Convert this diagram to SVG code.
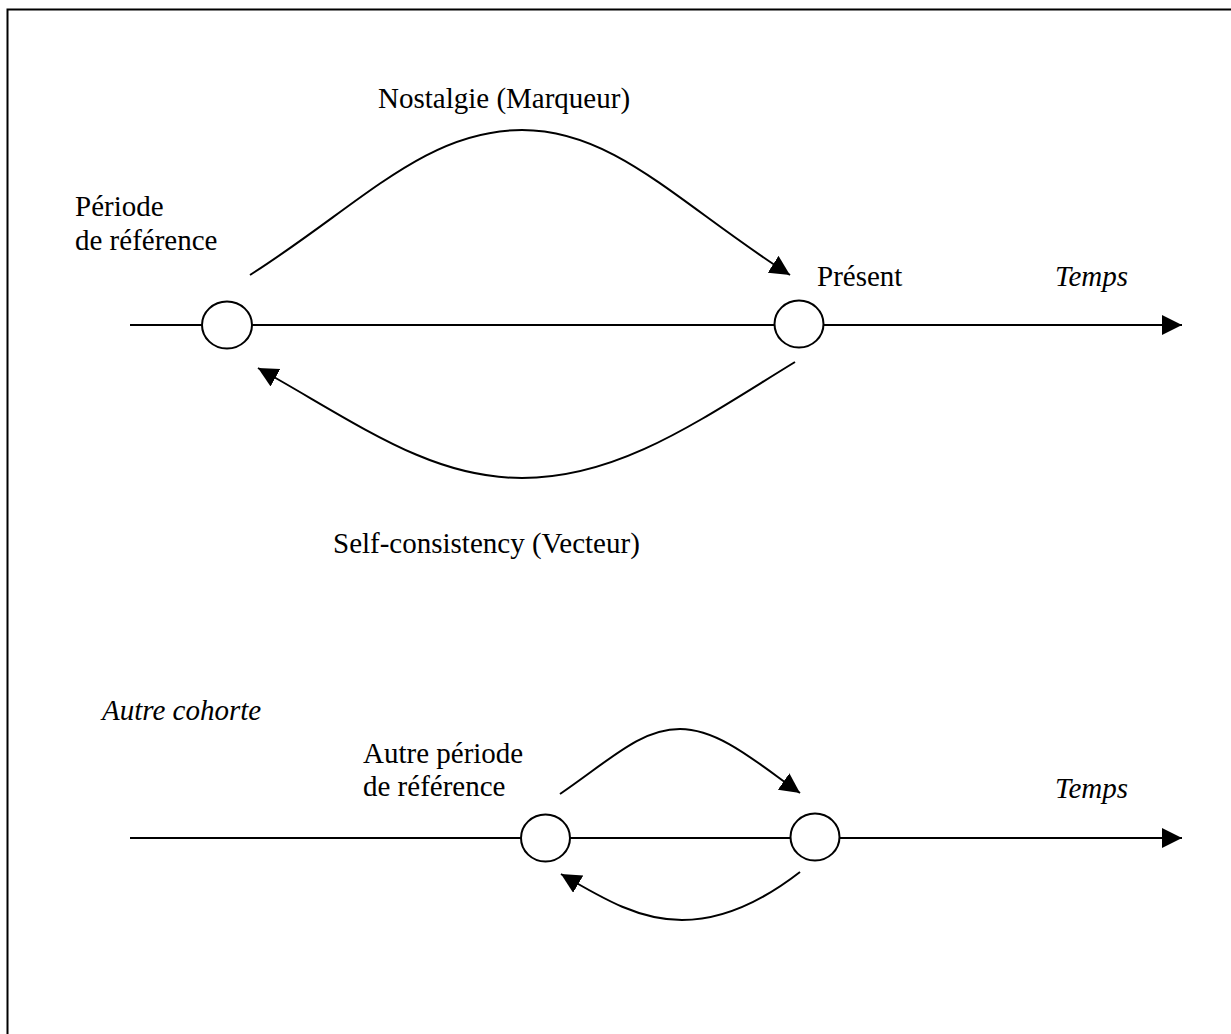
<svg xmlns="http://www.w3.org/2000/svg" width="1231" height="1034" viewBox="0 0 1231 1034">
<defs>
<style>
.t{font-family:"Liberation Serif","Times New Roman",serif;font-size:29px;fill:#000}
.i{font-style:italic}
.ln{fill:none;stroke:#000;stroke-width:2}
.nd{fill:#fff;stroke:#000;stroke-width:2}
</style>
<marker id="ah" markerUnits="userSpaceOnUse" markerWidth="22" markerHeight="22" refX="20" refY="10" orient="auto" viewBox="0 0 22 22">
<path d="M0,0 L20,10 L0,20 z" fill="#000"/>
</marker>
</defs>
<rect x="7.5" y="9.5" width="1300" height="1100" fill="#fff" stroke="#000" stroke-width="2"/>
<g id="connectors">
<line class="ln" x1="130" y1="325" x2="1182" y2="325" marker-end="url(#ah)"/>
<path class="ln" d="M250,275 C360,205 425,130 522,130 C615,130 680,205 790,275" marker-end="url(#ah)"/>
<path class="ln" d="M795,362 C700,420 620,478 522,478 C430,478 360,425 258,368" marker-end="url(#ah)"/>
<line class="ln" x1="130" y1="838" x2="1182" y2="838" marker-end="url(#ah)"/>
<path class="ln" d="M560,794 C610,760 640,729 680,729 C720,729 760,765 800,793" marker-end="url(#ah)"/>
<path class="ln" d="M800,872 C760,903 720,920 682,920 C640,920 605,900 561,874" marker-end="url(#ah)"/>
</g>
<g id="node-reference">
<ellipse class="nd" cx="227" cy="325" rx="25" ry="23.5"/>
<text class="t" x="75" y="216">Période</text>
<text class="t" x="75" y="250">de référence</text>
</g>
<g id="node-present">
<ellipse class="nd" cx="799" cy="324" rx="24.5" ry="23.5"/>
<text class="t" x="817" y="286">Présent</text>
</g>
<g id="label-temps1"><text class="t i" x="1055" y="286">Temps</text></g>
<g id="label-nostalgie"><text class="t" x="378" y="108">Nostalgie (Marqueur)</text></g>
<g id="label-self"><text class="t" x="333" y="553">Self-consistency (Vecteur)</text></g>
<g id="label-cohorte"><text class="t i" x="102" y="720">Autre cohorte</text></g>
<g id="node-autre">
<ellipse class="nd" cx="545.5" cy="838" rx="24.5" ry="23.5"/>
<text class="t" x="363" y="763">Autre période</text>
<text class="t" x="363" y="796">de référence</text>
</g>
<g id="node-autre2">
<ellipse class="nd" cx="815" cy="837" rx="24.5" ry="23.5"/>
</g>
<g id="label-temps2"><text class="t i" x="1055" y="798">Temps</text></g>
</svg>
